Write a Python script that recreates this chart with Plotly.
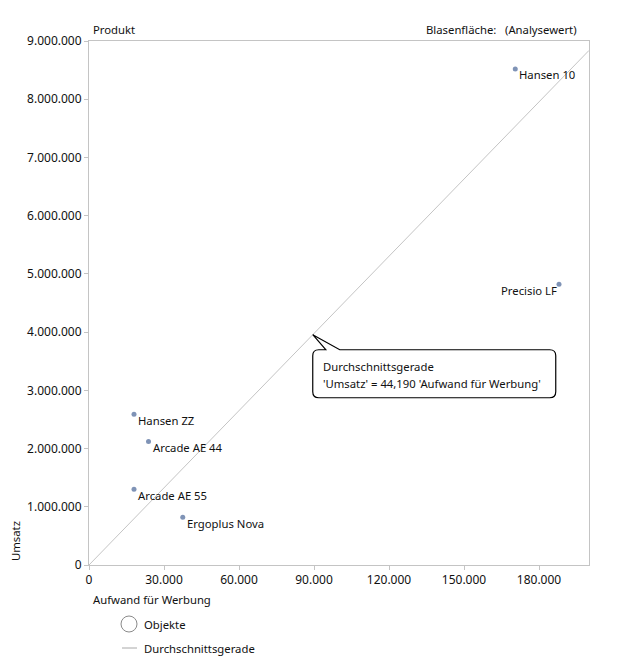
import plotly.graph_objects as go

# ---- data ----
products = ["Hansen 10", "Precisio LF", "Hansen ZZ", "Arcade AE 44", "Arcade AE 55", "Ergoplus Nova"]
werbung = [170500, 188000, 18000, 23800, 18000, 37500]          # Aufwand für Werbung
umsatz = [8520000, 4820000, 2590000, 2120000, 1300000, 820000]   # Umsatz
label_side = ["right", "left", "right", "right", "right", "right"]
slope = 44.19
x_ticks = [0, 30000, 60000, 90000, 120000, 150000, 180000]
y_ticks = [0, 1000000, 2000000, 3000000, 4000000, 5000000, 6000000, 7000000, 8000000, 9000000]
x_range = [0, 200000]
y_range = [0, 9000000]

FONT = "Noto Sans, Segoe UI, sans-serif"
TXT = 11.3
GRAY = "#c4c4c4"

# plot-area geometry (pixels)
L, R, T, B = 89, 589, 41, 565
W, H = 631, 661


def px(p):
    return (p - L) / (R - L)


def py(p):
    return (B - p) / (B - T)


fig = go.Figure()

# average line
line_x = x_range
line_y = [slope * v for v in line_x]
fig.add_trace(go.Scatter(x=line_x, y=line_y, mode="lines",
                         line=dict(color=GRAY, width=1), hoverinfo="skip", showlegend=False))

# points
fig.add_trace(go.Scatter(x=werbung, y=umsatz, mode="markers",
                         marker=dict(color="#7f93b6", size=5), text=products,
                         showlegend=False))

tf = dict(family=FONT, size=TXT, color="#111")

annotations = []
for name, xv, yv, side in zip(products, werbung, umsatz, label_side):
    if side == "right":
        annotations.append(dict(x=xv, y=yv, xref="x", yref="y", text=name, showarrow=False,
                                xanchor="left", yanchor="middle", xshift=2, yshift=-6, font=tf))
    else:
        annotations.append(dict(x=xv, y=yv, xref="x", yref="y", text=name, showarrow=False,
                                xanchor="right", yanchor="middle", xshift=0, yshift=-6, font=tf))

# callout
x_tip = 89500
y_tip = slope * x_tip
bubble = ("M 0 0 L 27 -15 L 237 -15 Q 243 -15 243 -21 L 243 -57 Q 243 -63 237 -63 "
          "L 6 -63 Q 0 -63 0 -57 L 0 -21 Q 0 -15 6 -15 L 13 -15 Z")
shapes = [dict(type="path", xref="x", yref="y", xsizemode="pixel", ysizemode="pixel",
               xanchor=x_tip, yanchor=y_tip, path=bubble,
               line=dict(color="black", width=1.2), fillcolor="white", layer="above")]
annotations.append(dict(x=x_tip, y=y_tip, xref="x", yref="y", text="Durchschnittsgerade",
                        showarrow=False, xanchor="left", yanchor="middle", xshift=8, yshift=-32, font=tf))
annotations.append(dict(x=x_tip, y=y_tip, xref="x", yref="y",
                        text="'Umsatz' = 44,190 'Aufwand für Werbung'",
                        showarrow=False, xanchor="left", yanchor="middle", xshift=8, yshift=-49, font=tf))

# headers and axis titles
annotations += [
    dict(x=px(91), y=py(30), xref="paper", yref="paper", text="Produkt", showarrow=False,
         xanchor="left", yanchor="middle", font=tf),
    dict(x=px(498), y=py(30), xref="paper", yref="paper", text="Blasenfläche:", showarrow=False,
         xanchor="right", yanchor="middle", font=tf),
    dict(x=px(579), y=py(30), xref="paper", yref="paper", text="(Analysewert)", showarrow=False,
         xanchor="right", yanchor="middle", font=tf),
    dict(x=px(91), y=py(599), xref="paper", yref="paper", text="Aufwand für Werbung", showarrow=False,
         xanchor="left", yanchor="middle", font=tf),
    dict(x=px(15), y=py(563), xref="paper", yref="paper", text="Umsatz", showarrow=False,
         textangle=-90, xanchor="center", yanchor="bottom", font=tf),
    dict(x=px(142), y=py(624), xref="paper", yref="paper", text="Objekte", showarrow=False,
         xanchor="left", yanchor="middle", font=tf),
    dict(x=px(142), y=py(648), xref="paper", yref="paper", text="Durchschnittsgerade", showarrow=False,
         xanchor="left", yanchor="middle", font=tf),
]

# manual legend symbols
shapes += [
    dict(type="circle", xref="paper", yref="paper", xsizemode="pixel", ysizemode="pixel",
         xanchor=0, yanchor=0, x0=121 - L, x1=137 - L, y0=B - 632, y1=B - 616,
         line=dict(color="#8a8a8a", width=1), fillcolor="white"),
    dict(type="line", xref="paper", yref="paper", xsizemode="pixel", ysizemode="pixel",
         xanchor=0, yanchor=0, x0=122 - L, x1=137 - L, y0=B - 648, y1=B - 648,
         line=dict(color="#a8a8a8", width=1)),
]

axis_common = dict(showgrid=False, zeroline=False, showline=True, linecolor=GRAY, linewidth=1,
                   mirror=True, ticks="outside", ticklen=4, tickcolor=GRAY, tickwidth=1,
                   tickfont=dict(family=FONT, size=12, color="#111"), tickformat=",d")

fig.update_layout(
    width=W, height=H,
    margin=dict(l=L, r=W - R, t=T, b=H - B),
    paper_bgcolor="white", plot_bgcolor="white",
    separators=",.",
    xaxis=dict(range=x_range, tickvals=x_ticks, **axis_common),
    yaxis=dict(range=y_range, tickvals=y_ticks, **axis_common),
    annotations=annotations, shapes=shapes,
    showlegend=False,
    font=dict(family=FONT, size=12, color="#111"),
)

fig.write_html("out.html")
